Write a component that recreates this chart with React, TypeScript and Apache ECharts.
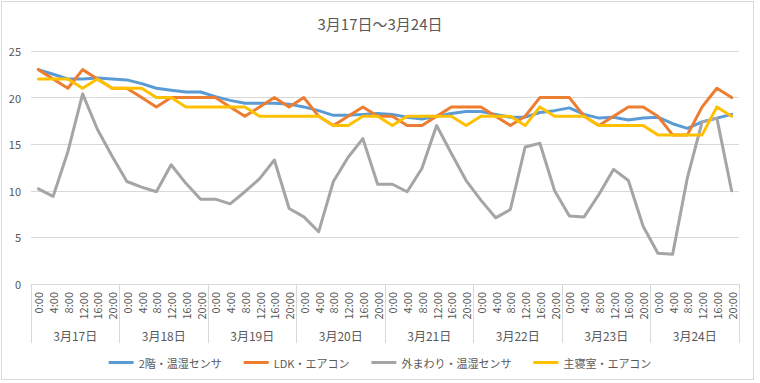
import React, { useEffect, useRef } from "react";
import * as echarts from "echarts";

const times = ["0:00", "4:00", "8:00", "12:00", "16:00", "20:00"];
const dates = ["3月17日", "3月18日", "3月19日", "3月20日", "3月21日", "3月22日", "3月23日", "3月24日"];
const categories: string[] = [];
dates.forEach((d) => times.forEach((t) => categories.push(d + " " + t)));

const upstairs = [
  23.0, 22.5, 22.0, 22.0, 22.1, 22.0,
  21.9, 21.5, 21.0, 20.8, 20.6, 20.6,
  20.1, 19.7, 19.4, 19.4, 19.4, 19.3,
  19.0, 18.6, 18.1, 18.1, 18.2, 18.3,
  18.2, 17.9, 17.7, 18.0, 18.3, 18.5,
  18.5, 18.2, 17.9, 17.9, 18.4, 18.6,
  18.9, 18.2, 17.8, 17.9, 17.6, 17.8,
  17.9, 17.2, 16.7, 17.4, 17.8, 18.2,
];
const ldk = [
  23, 22, 21, 23, 22, 21,
  21, 20, 19, 20, 20, 20,
  20, 19, 18, 19, 20, 19,
  20, 18, 17, 18, 19, 18,
  18, 17, 17, 18, 19, 19,
  19, 18, 17, 18, 20, 20,
  20, 18, 17, 18, 19, 19,
  18, 16, 16, 19, 21, 20,
];
const outside = [
  10.2, 9.4, 14.2, 20.4, 16.6, 13.7,
  11.0, 10.4, 9.9, 12.8, 10.8, 9.1,
  9.1, 8.6, 9.9, 11.3, 13.3, 8.1,
  7.2, 5.6, 11.0, 13.6, 15.6, 10.7,
  10.7, 9.9, 12.4, 17.0, 14.0, 11.1,
  9.0, 7.1, 8.0, 14.7, 15.1, 10.0,
  7.3, 7.2, 9.6, 12.3, 11.1, 6.2,
  3.3, 3.2, 11.4, 17.4, 17.8, 10.0,
];
const bedroom = [
  22, 22, 22, 21, 22, 21,
  21, 21, 20, 20, 19, 19,
  19, 19, 19, 18, 18, 18,
  18, 18, 17, 17, 18, 18,
  17, 18, 18, 18, 18, 17,
  18, 18, 18, 17, 19, 18,
  18, 18, 17, 17, 17, 17,
  16, 16, 16, 16, 19, 18,
];

const seriesNames = ["2階・温湿センサ", "LDK・エアコン", "外まわり・温湿センサ", "主寝室・エアコン"];
const seriesColors = ["#5B9BD5", "#ED7D31", "#A5A5A5", "#FFC000"];
const seriesData = [upstairs, ldk, outside, bedroom];

const FONT = "'Noto Sans CJK JP', 'Noto Sans', sans-serif";

export default function App() {
  const ref = useRef<HTMLDivElement>(null);
  useEffect(() => {
    if (!ref.current) return;
    const chart = echarts.init(ref.current, undefined, { renderer: "svg" });
    chart.setOption({
      animation: false,
      backgroundColor: "#ffffff",
      textStyle: { fontFamily: FONT },
      title: {
        text: "3月17日～3月24日",
        left: "center",
        top: 11,
        textStyle: { fontSize: 15, fontWeight: "normal", color: "#595959", fontFamily: FONT },
      },
      legend: {
        bottom: 10,
        left: "center",
        icon: "rect",
        itemWidth: 25,
        itemHeight: 3,
        itemGap: 22,
        textStyle: { fontSize: 11, color: "#595959", fontFamily: FONT },
        data: seriesNames,
      },
      grid: { left: 31, right: 21, top: 51, bottom: 99, containLabel: false },
      xAxis: [
        {
          type: "category",
          data: categories,
          boundaryGap: true,
          axisLine: { show: true, lineStyle: { color: "#d9d9d9", width: 1 } },
          axisTick: { show: false },
          axisLabel: {
            interval: 0,
            rotate: 90,
            margin: 8,
            fontSize: 11,
            color: "#595959",
            fontFamily: FONT,
            formatter: (v: string) => v.split(" ")[1],
          },
          splitLine: { show: false },
        },
        {
          type: "category",
          data: dates,
          position: "bottom",
          boundaryGap: true,
          axisLine: { show: false },
          axisTick: { show: true, length: 59, interval: 0, lineStyle: { color: "#d9d9d9", width: 1 } },
          axisLabel: { interval: 0, margin: 45, fontSize: 12, color: "#595959", fontFamily: FONT },
          splitLine: { show: false },
        },
      ],
      yAxis: {
        type: "value",
        min: 0,
        max: 25,
        interval: 5,
        axisLine: { show: false },
        axisTick: { show: false },
        axisLabel: { margin: 10, fontSize: 11, color: "#595959", fontFamily: FONT },
        splitLine: { lineStyle: { color: "#d9d9d9", width: 1 } },
      },
      series: seriesData.map((d, i) => ({
        name: seriesNames[i],
        type: "line",
        xAxisIndex: 0,
        data: d,
        symbol: "none",
        color: seriesColors[i],
        lineStyle: { color: seriesColors[i], width: 3, cap: "round", join: "round" },
      })),
    });
    return () => chart.dispose();
  }, []);
  return (
    <div style={{ position: "fixed", left: 0, top: 0, width: 760, height: 383, background: "#fff" }}>
      <div ref={ref} style={{ position: "absolute", left: 0, top: 0, width: 760, height: 383 }} />
      <div
        style={{
          position: "absolute",
          left: 1,
          top: 1,
          width: 751,
          height: 377,
          border: "1px solid #d9d9d9",
          pointerEvents: "none",
        }}
      />
    </div>
  );
}
